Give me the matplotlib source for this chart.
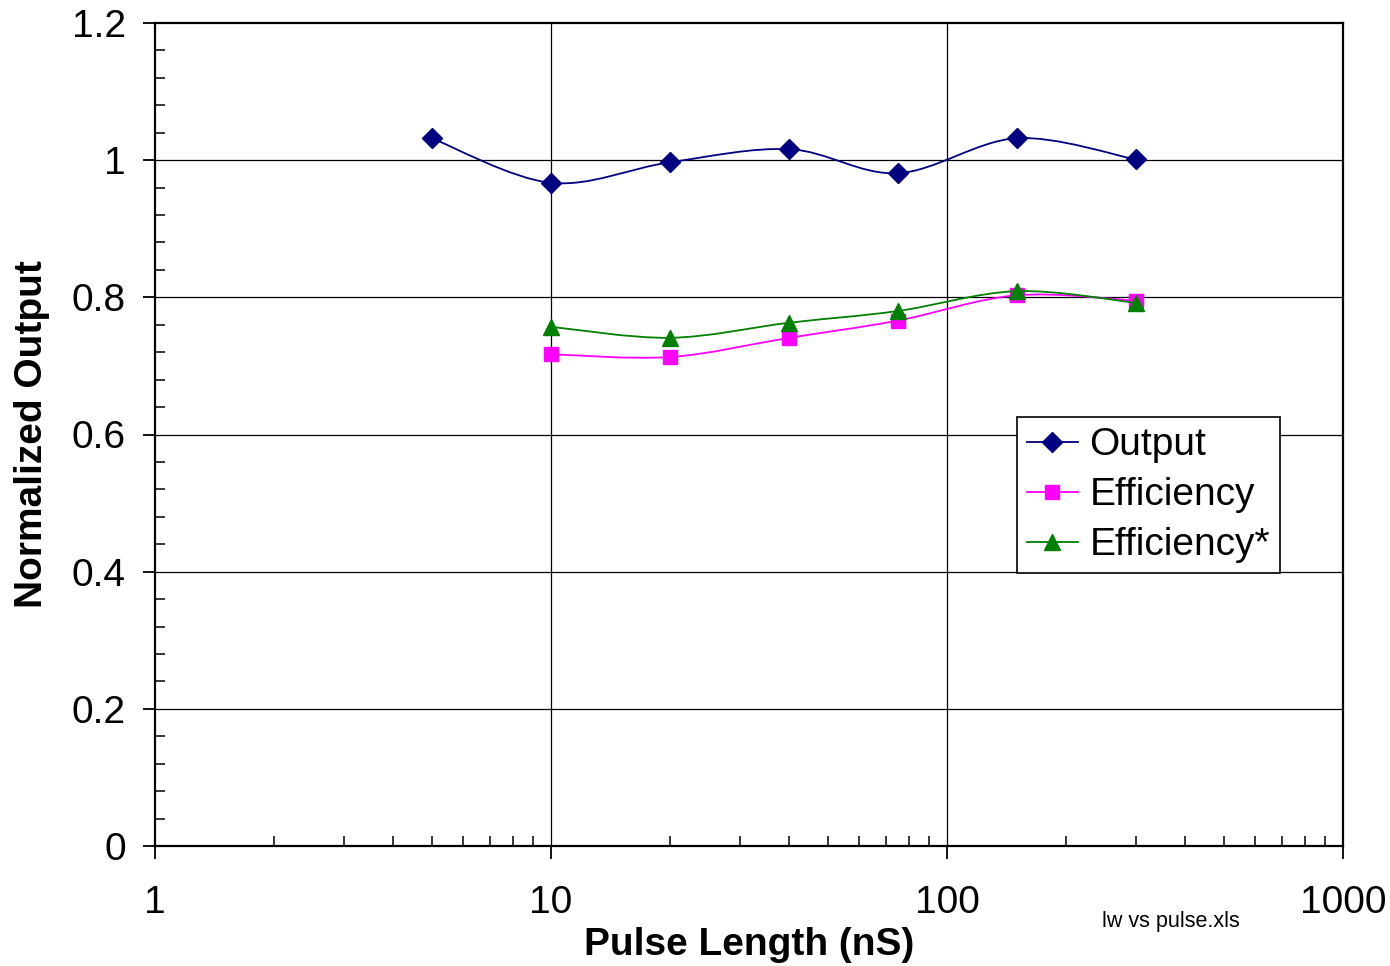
import numpy as np
import matplotlib
matplotlib.use("Agg")
import matplotlib.pyplot as plt
from matplotlib.path import Path
from matplotlib.patches import PathPatch
from matplotlib.lines import Line2D
from matplotlib.ticker import FixedLocator, FuncFormatter, LogLocator, NullFormatter

plt.rcParams['font.family'] = ['Liberation Sans', 'DejaVu Sans']

# Data
pulse_out = [5, 10, 20, 40, 75, 150, 300]
output = [1.032, 0.967, 0.997, 1.016, 0.981, 1.032, 1.001]

pulse_eff = [10, 20, 40, 75, 150, 300]
efficiency = [0.717, 0.713, 0.741, 0.766, 0.803, 0.795]
efficiency_star = [0.757, 0.741, 0.763, 0.780, 0.809, 0.792]

series_names = ["Output", "Efficiency", "Efficiency*"]


# Excel-style smoothed line: cubic Bezier through the points (in log-x space)
def smooth_path(xs, ys):
    lx = np.log10(np.asarray(xs, float))
    y = np.asarray(ys, float)
    n = len(lx)
    verts = [(xs[0], y[0])]
    codes = [Path.MOVETO]
    for i in range(n - 1):
        i0 = max(i - 1, 0)
        i3 = min(i + 2, n - 1)
        c1x = lx[i] + (lx[i + 1] - lx[i0]) / 6
        c1y = y[i] + (y[i + 1] - y[i0]) / 6
        c2x = lx[i + 1] - (lx[i3] - lx[i]) / 6
        c2y = y[i + 1] - (y[i3] - y[i]) / 6
        verts += [(10 ** c1x, c1y), (10 ** c2x, c2y), (xs[i + 1], y[i + 1])]
        codes += [Path.CURVE4] * 3
    return Path(verts, codes)


fig = plt.figure(figsize=(13.9, 9.66), dpi=100)
ax = fig.add_axes([155 / 1390, 1 - 846 / 966, 1188 / 1390, 823 / 966])
ax.set_xscale('log')
ax.set_xlim(1, 1000)
ax.set_ylim(0, 1.2)

# Grid
for yv in [0.2, 0.4, 0.6, 0.8, 1.0]:
    ax.axhline(yv, color='black', lw=0.9, zorder=1)
for xv in [10, 100]:
    ax.axvline(xv, color='black', lw=0.9, zorder=1)

styles = [
    (pulse_out, output, '#000080', 'D', 10),
    (pulse_eff, efficiency, '#FF00FF', 's', 10.5),
    (pulse_eff, efficiency_star, '#008000', '^', 12),
]
handles = []
for k, (xs, ys, col, mk, ms) in enumerate(styles):
    ax.add_patch(PathPatch(smooth_path(xs, ys), fill=False, edgecolor=col,
                           lw=1.3, zorder=3 + k))
    ax.plot(xs, ys, linestyle='none', marker=mk, ms=ms, color=col,
            markeredgecolor=col, zorder=3.5 + k, clip_on=False)
    handles.append(Line2D([], [], color=col, lw=1.3, marker=mk, ms=ms,
                          markeredgecolor=col))

# Ticks
ax.yaxis.set_major_locator(FixedLocator([0, 0.2, 0.4, 0.6, 0.8, 1.0, 1.2]))
ax.yaxis.set_minor_locator(FixedLocator(np.arange(0, 1.2001, 0.04)))
ax.yaxis.set_major_formatter(FuncFormatter(lambda v, p: f"{v:g}"))
ax.xaxis.set_major_locator(FixedLocator([1, 10, 100, 1000]))
ax.xaxis.set_major_formatter(FuncFormatter(lambda v, p: f"{v:g}"))
ax.xaxis.set_minor_locator(LogLocator(base=10, subs=np.arange(2, 10)))
ax.xaxis.set_minor_formatter(NullFormatter())

ax.tick_params(axis='both', which='major', direction='out', length=9,
               width=1.3, labelsize=28, colors='black')
ax.tick_params(axis='x', which='major', pad=19)
ax.tick_params(axis='y', which='major', pad=12)
ax.tick_params(axis='both', which='minor', direction='in', length=7, width=1.1)

for s in ax.spines.values():
    s.set_linewidth(1.6)
    s.set_color('black')
    s.set_zorder(2)

ax.set_xlabel("Pulse Length (nS)", fontsize=28, fontweight='bold')
ax.set_ylabel("Normalized Output", fontsize=28, fontweight='bold')
ax.xaxis.set_label_coords(0.5, -0.098)
ax.yaxis.set_label_coords(-0.088, 0.5)

leg = ax.legend(handles, series_names, loc='upper left',
                bbox_to_anchor=(0.7256, 0.521), borderaxespad=0,
                fontsize=28, frameon=True, fancybox=False, framealpha=1,
                edgecolor='black', handlelength=1.3, handletextpad=0.3,
                borderpad=0.26, labelspacing=0.36)
leg.get_frame().set_linewidth(1.2)
leg.set_zorder(10)

fig.text(1171 / 1390, 1 - 921 / 966, "lw vs pulse.xls", fontsize=15.5,
         ha='center', va='center')

fig.savefig("out.png", dpi=100)
